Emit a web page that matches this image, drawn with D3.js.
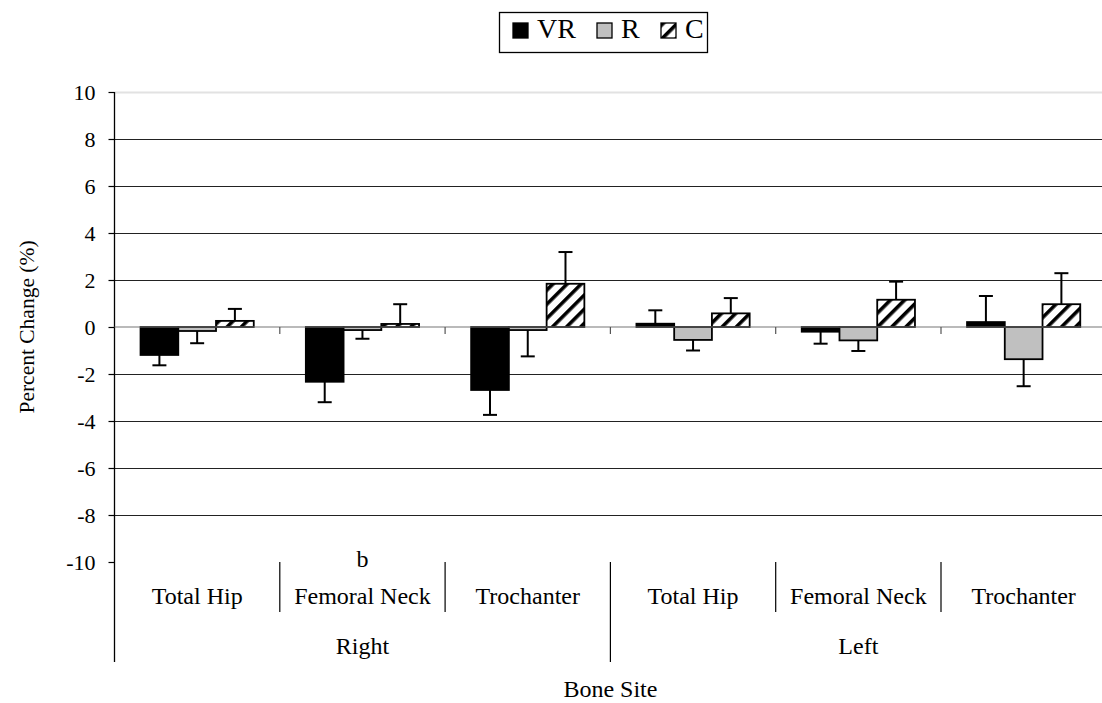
<html>
<head>
<meta charset="utf-8">
<title>bone site percent change</title>
<script src="https://cdnjs.cloudflare.com/ajax/libs/d3/7.8.5/d3.min.js"></script>
<style>
  body { margin: 0; background: #fff; }
  text { font-family: "Liberation Serif", "Times New Roman", serif; fill: #000; }
</style>
</head>
<body>
<div id="vis_container"></div>
<script>

    // data
    var sites = ["Total Hip", "Femoral Neck", "Trochanter", "Total Hip", "Femoral Neck", "Trochanter"];
    var sides = ["Right", "Left"];
    var notes = ["", "b", "", "", "", ""];
    var seriesNames = ["VR", "R", "C"];

    var vrValues = [-1.19, -2.33, -2.68, 0.14, -0.20, 0.21];
    var vrErrors = [0.44, 0.87, 1.06, 0.57, 0.51, 1.11];
    var rValues = [-0.17, -0.13, -0.13, -0.55, -0.57, -1.37];
    var rErrors = [0.52, 0.37, 1.12, 0.45, 0.45, 1.15];
    var cValues = [0.26, 0.13, 1.84, 0.58, 1.16, 0.97];
    var cErrors = [0.51, 0.84, 1.35, 0.65, 0.77, 1.32];

    var yTicks = [-10, -8, -6, -4, -2, 0, 2, 4, 6, 8, 10];

    var width = 1102;
    var height = 703;
    var plotLeft = 114.5, plotRight = 1106.3, plotTop = 92, plotBottom = 562;

    var svg = d3.select("#vis_container")
                .append("svg")
                .attr("width", width)
                .attr("height", height);

    var defs = svg.append("defs");
    var pat = defs.append("pattern")
        .attr("id", "hatch")
        .attr("patternUnits", "userSpaceOnUse")
        .attr("width", 10)
        .attr("height", 10)
        .attr("patternTransform", "rotate(45)");
    pat.append("rect").attr("width", 10).attr("height", 10).attr("fill", "#fff");
    pat.append("rect").attr("x", 0).attr("y", 0).attr("width", 3.6).attr("height", 10).attr("fill", "#000");

    var fills = { VR: "#000", R: "#c0c0c0", C: "url(#hatch)" };

    var x = d3.scaleBand().domain(d3.range(sites.length)).range([plotLeft, plotRight]).paddingInner(0).paddingOuter(0);
    var xs = d3.scaleBand().domain(seriesNames).range([0, x.bandwidth()]).paddingInner(0).paddingOuter(0.69);
    var y = d3.scaleLinear().domain([-10, 10]).range([plotBottom, plotTop]);

    // gridlines
    svg.append("g").selectAll("line")
        .data(yTicks.filter(function(d) { return d !== 0 && d !== -10; }))
        .enter().append("line")
        .attr("x1", plotLeft).attr("x2", width)
        .attr("y1", function(d) { return Math.round(y(d)) + 0.5; })
        .attr("y2", function(d) { return Math.round(y(d)) + 0.5; })
        .attr("stroke", function(d) { return d === 10 ? "#e2e2e2" : "#222"; })
        .attr("stroke-width", function(d) { return d === 10 ? 2 : 1.2; });

    // y axis
    var yAxis = d3.axisLeft(y).tickValues(yTicks).tickSize(6).tickPadding(13)
        .tickFormat(function(d) { return String(d); });
    var yg = svg.append("g").attr("transform", "translate(" + plotLeft + ",0)").call(yAxis);
    yg.attr("font-family", null);
    yg.select(".domain").remove();
    yg.selectAll(".tick line").attr("stroke", "#000").attr("stroke-width", 1.2);
    yg.selectAll(".tick text").style("font-size", "22px").attr("fill", "#000");

    svg.append("line")
        .attr("x1", plotLeft).attr("x2", plotLeft)
        .attr("y1", plotTop).attr("y2", 662)
        .attr("stroke", "#000").attr("stroke-width", 1.3);

    // bars
    var rows = [];
    sites.forEach(function(s, i) {
        rows.push({ i: i, key: "VR", v: vrValues[i], e: vrErrors[i] });
        rows.push({ i: i, key: "R", v: rValues[i], e: rErrors[i] });
        rows.push({ i: i, key: "C", v: cValues[i], e: cErrors[i] });
    });

    var bars = svg.append("g");
    bars.selectAll("rect")
        .data(rows)
        .enter().append("rect")
        .attr("x", function(d) { return x(d.i) + xs(d.key); })
        .attr("width", xs.bandwidth())
        .attr("y", function(d) { return y(Math.max(0, d.v)); })
        .attr("height", function(d) { return Math.abs(y(d.v) - y(0)); })
        .attr("fill", function(d) { return fills[d.key]; })
        .attr("stroke", "#000")
        .attr("stroke-width", 1.8);

    // zero axis with category ticks
    svg.append("line")
        .attr("x1", plotLeft).attr("x2", width)
        .attr("y1", y(0)).attr("y2", y(0))
        .attr("stroke", "#777").attr("stroke-width", 1.2);
    svg.append("g").selectAll("line")
        .data(d3.range(1, sites.length))
        .enter().append("line")
        .attr("x1", function(d) { return x(d); })
        .attr("x2", function(d) { return x(d); })
        .attr("y1", y(0)).attr("y2", y(0) + 7)
        .attr("stroke", "#555").attr("stroke-width", 1.2);

    // error bars (one sided, away from zero)
    var err = svg.append("g").attr("stroke", "#000").attr("stroke-width", 2);
    rows.forEach(function(d) {
        var cx = x(d.i) + xs(d.key) + xs.bandwidth() / 2;
        var tip = d.v >= 0 ? d.v + d.e : d.v - d.e;
        err.append("line").attr("x1", cx).attr("x2", cx).attr("y1", y(d.v)).attr("y2", y(tip));
        err.append("line").attr("x1", cx - 7).attr("x2", cx + 7).attr("y1", y(tip)).attr("y2", y(tip));
    });

    // category labels
    var cat = svg.append("g");
    cat.selectAll("text.site")
        .data(sites)
        .enter().append("text")
        .attr("class", "site")
        .attr("x", function(d, i) { return x(i) + x.bandwidth() / 2; })
        .attr("y", 604)
        .attr("text-anchor", "middle")
        .style("font-size", "24px")
        .text(function(d) { return d; });

    cat.selectAll("text.note")
        .data(notes)
        .enter().append("text")
        .attr("class", "note")
        .attr("x", function(d, i) { return x(i) + x.bandwidth() / 2; })
        .attr("y", 567)
        .attr("text-anchor", "middle")
        .style("font-size", "24px")
        .text(function(d) { return d; });

    cat.selectAll("line.sep")
        .data(d3.range(1, sites.length + 1))
        .enter().append("line")
        .attr("x1", function(d) { return x(d - 1) + x.bandwidth(); })
        .attr("x2", function(d) { return x(d - 1) + x.bandwidth(); })
        .attr("y1", 562)
        .attr("y2", function(d) { return d % 3 === 0 ? 662 : 612; })
        .attr("stroke", "#000").attr("stroke-width", 1.2);

    cat.selectAll("text.side")
        .data(sides)
        .enter().append("text")
        .attr("class", "side")
        .attr("x", function(d, i) { return (x(i * 3) + x(i * 3 + 2) + x.bandwidth()) / 2; })
        .attr("y", 654)
        .attr("text-anchor", "middle")
        .style("font-size", "24px")
        .text(function(d) { return d; });

    // axis titles
    svg.append("text")
        .attr("x", (plotLeft + plotRight) / 2)
        .attr("y", 697)
        .attr("text-anchor", "middle")
        .style("font-size", "24px")
        .text("Bone Site");

    svg.append("text")
        .attr("transform", "translate(34," + (plotTop + plotBottom) / 2 + ") rotate(-90)")
        .attr("text-anchor", "middle")
        .style("font-size", "21.5px")
        .text("Percent Change (%)");

    // legend
    var legend = svg.append("g");
    legend.append("rect")
        .attr("x", 499.5).attr("y", 12.5)
        .attr("width", 208).attr("height", 40)
        .attr("fill", "#fff").attr("stroke", "#000").attr("stroke-width", 1.3);
    var legendX = [513, 597, 661];
    var item = legend.selectAll("g.item")
        .data(seriesNames)
        .enter().append("g")
        .attr("class", "item")
        .attr("transform", function(d, i) { return "translate(" + legendX[i] + ",23)"; });
    item.append("rect")
        .attr("width", 15).attr("height", 15)
        .attr("fill", function(d) { return fills[d]; })
        .attr("stroke", "#000").attr("stroke-width", 1.3);
    item.append("text")
        .attr("x", 24).attr("y", 14.5)
        .style("font-size", "28px")
        .text(function(d) { return d; });

</script>
</body>
</html>
